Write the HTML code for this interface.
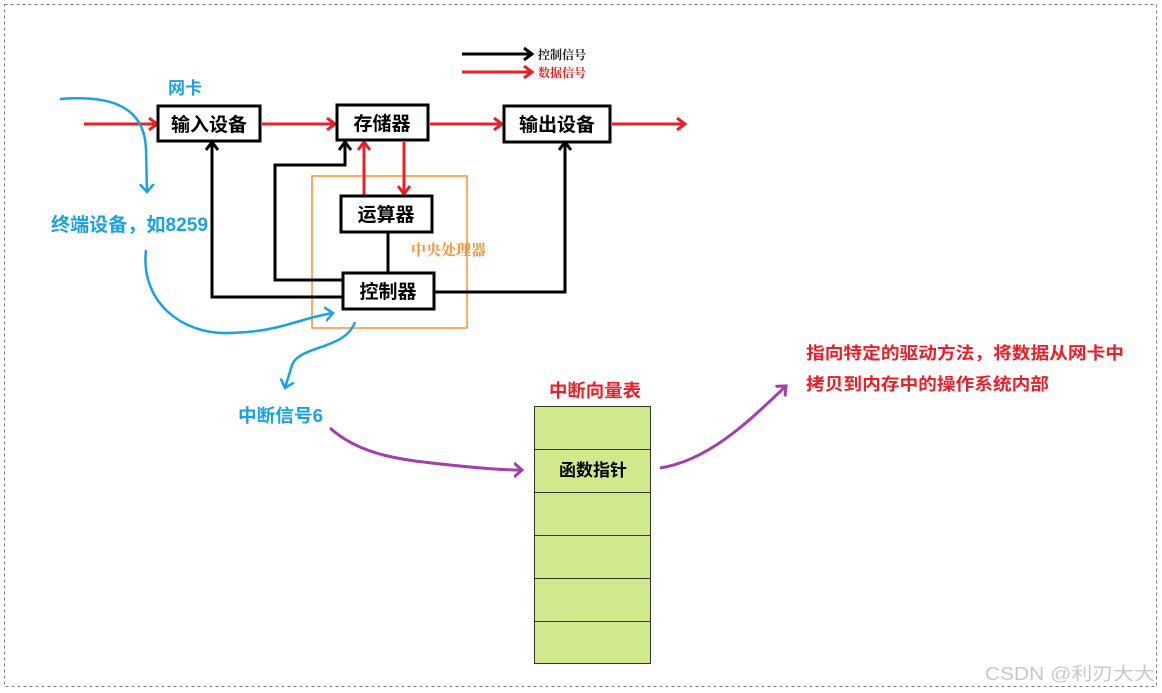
<!DOCTYPE html>
<html><head><meta charset="utf-8"><style>
body{margin:0;background:#fff}
svg{display:block}
text{font-family:"Liberation Sans","Noto Sans CJK SC",sans-serif}
.s{font-family:"Noto Serif CJK SC",serif;font-weight:bold}
</style></head><body>
<svg width="1162" height="693" viewBox="0 0 1162 693" xmlns="http://www.w3.org/2000/svg">
<defs>
<marker id="ar" markerWidth="12" markerHeight="14" refX="8" refY="7" orient="auto" markerUnits="userSpaceOnUse"><path d="M1,1 L9,7 L1,13" fill="none" stroke="#e8202a" stroke-width="3"/></marker>
<marker id="ab" markerWidth="12" markerHeight="14" refX="8" refY="7" orient="auto" markerUnits="userSpaceOnUse"><path d="M1,1 L9,7 L1,13" fill="none" stroke="#000" stroke-width="3"/></marker>
<marker id="abl" markerWidth="14" markerHeight="16" refX="8" refY="8" orient="auto" markerUnits="userSpaceOnUse"><path d="M0,1 L8,8 L0,15" fill="none" stroke="#1ba1e2" stroke-width="2.5"/></marker>
<marker id="ap" markerWidth="14" markerHeight="16" refX="8" refY="8" orient="auto" markerUnits="userSpaceOnUse"><path d="M0,1 L8,8 L0,15" fill="none" stroke="#a040a8" stroke-width="3"/></marker>
</defs>
<rect x="4.5" y="4.5" width="1152" height="682" fill="none" stroke="#777" stroke-dasharray="3,3"/>
<line x1="462" y1="54" x2="531" y2="54" stroke="#000" stroke-width="3" marker-end="url(#ab)"/>
<line x1="462" y1="72" x2="531" y2="72" stroke="#e8202a" stroke-width="3" marker-end="url(#ar)"/>
<text x="538" y="59" font-size="12" class="s" fill="#222">控制信号</text>
<text x="538" y="77" font-size="12" class="s" fill="#e8202a">数据信号</text>
<rect x="312" y="176" width="155" height="152" fill="none" stroke="#f7913a" stroke-width="1.5"/>
<text x="411" y="255" font-size="15" class="s" fill="#f7913a" font-weight="normal">中央处理器</text>
<g stroke="#000" stroke-width="3" fill="none">
<polyline points="343,297 212,297 212,143" marker-end="url(#ab)"/>
<polyline points="343,280 275,280 275,165 345,165 345,143" marker-end="url(#ab)"/>
<line x1="388" y1="232" x2="388" y2="272"/>
<polyline points="434,292 565,292 565,143" marker-end="url(#ab)"/>
</g>
<g stroke="#e8202a" stroke-width="3" fill="none">
<line x1="84" y1="124" x2="156" y2="124" marker-end="url(#ar)"/>
<line x1="262" y1="124" x2="334" y2="124" marker-end="url(#ar)"/>
<line x1="430" y1="124" x2="501" y2="124" marker-end="url(#ar)"/>
<line x1="612" y1="124" x2="684" y2="124" marker-end="url(#ar)"/>
<line x1="364" y1="195" x2="364" y2="143" marker-end="url(#ar)"/>
<line x1="404" y1="142" x2="404" y2="193" marker-end="url(#ar)"/>
</g>
<g fill="#fff" stroke="#000" stroke-width="3">
<rect x="158" y="106" width="102" height="35"/>
<rect x="337" y="105" width="91" height="35"/>
<rect x="504" y="106" width="106" height="36"/>
<rect x="341" y="196" width="91" height="36"/>
<rect x="343" y="273" width="91" height="36"/>
</g>
<g class="s" font-size="19" fill="#000" text-anchor="middle">
<text x="209" y="131">输入设备</text>
<text x="382" y="130">存储器</text>
<text x="557" y="131">输出设备</text>
<text x="386" y="221">运算器</text>
<text x="388" y="298">控制器</text>
</g>
<g stroke="#1ba1e2" stroke-width="2.5" fill="none">
<path d="M60,99 C100,96 145,100 146,150 L147,192" marker-end="url(#abl)"/>
<path d="M146,250 C140,300 180,335 230,333 C280,332 300,318 333,313" marker-end="url(#abl)"/>
<path d="M355,322 C345,350 300,345 292,365 L285,388" marker-end="url(#abl)"/>
</g>
<g font-weight="bold" fill="#1ba1e2" font-size="17">
<text x="168" y="94">网卡</text>
<text x="51" y="231" font-size="19" textLength="157" lengthAdjust="spacingAndGlyphs">终端设备，如8259</text>
<text x="238" y="422" font-size="18" textLength="85" lengthAdjust="spacingAndGlyphs">中断信号6</text>
</g>
<g stroke="#a040a8" stroke-width="3" fill="none">
<path d="M330,428 C360,455 400,460 450,465 C490,469 505,470 522,470" marker-end="url(#ap)"/>
<path d="M660,468 C710,460 750,420 786,386" marker-end="url(#ap)"/>
</g>
<g fill="#d0e98d" stroke="#333" stroke-width="1">
<rect x="534.5" y="406.5" width="116" height="43"/>
<rect x="534.5" y="449.5" width="116" height="43"/>
<rect x="534.5" y="492.5" width="116" height="43"/>
<rect x="534.5" y="535.5" width="116" height="43"/>
<rect x="534.5" y="578.5" width="116" height="43"/>
<rect x="534.5" y="621.5" width="116" height="42"/>
</g>
<text x="593" y="476" text-anchor="middle" font-size="17" font-weight="bold" fill="#000">函数指针</text>
<text x="549" y="397" font-size="18" font-weight="bold" fill="#e8202a" textLength="92" lengthAdjust="spacingAndGlyphs">中断向量表</text>
<text x="806" y="359" font-size="17" font-weight="bold" fill="#e8202a" textLength="318" lengthAdjust="spacingAndGlyphs">指向特定的驱动方法，将数据从网卡中</text>
<text x="806" y="390" font-size="17" font-weight="bold" fill="#e8202a" textLength="243" lengthAdjust="spacingAndGlyphs">拷贝到内存中的操作系统内部</text>
<text x="985" y="680" font-size="18" fill="#c8c8c8" textLength="170" lengthAdjust="spacingAndGlyphs">CSDN @利刃大大</text>
</svg>
</body></html>
